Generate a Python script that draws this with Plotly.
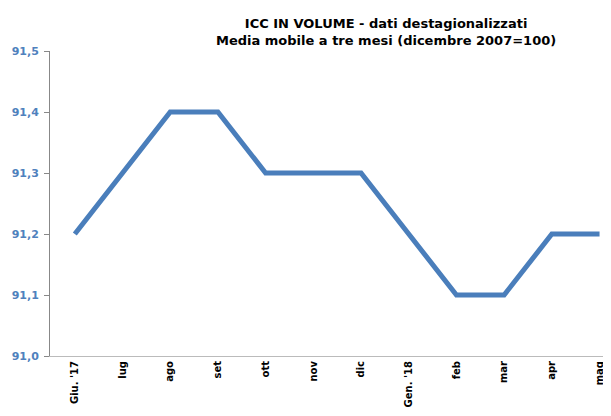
import plotly.graph_objects as go

categories = ["Giu. '17", "lug", "ago", "set", "ott", "nov", "dic", "Gen. '18", "feb", "mar", "apr", "mag"]
values = [91.2, 91.3, 91.4, 91.4, 91.3, 91.3, 91.3, 91.2, 91.1, 91.1, 91.2, 91.2]
y_ticks = [91.0, 91.1, 91.2, 91.3, 91.4, 91.5]
y_labels = ["91,0", "91,1", "91,2", "91,3", "91,4", "91,5"]

fig = go.Figure()
fig.add_trace(go.Scatter(
    x=list(range(len(categories))), y=values, mode="lines",
    line=dict(color="#4A7EBB", width=5), hoverinfo="skip",
))

fig.update_layout(
    width=603, height=408,
    margin=dict(l=42, r=0, t=43, b=60),
    paper_bgcolor="white", plot_bgcolor="white",
    showlegend=False,
    font=dict(family="DejaVu Sans"),
    title=dict(
        text="<b>ICC IN VOLUME - dati destagionalizzati<br>Media mobile a tre mesi (dicembre 2007=100)</b>",
        x=0.627, xanchor="center", y=0.95, yanchor="top",
        font=dict(size=13, color="black", family="DejaVu Sans"),
    ),
    xaxis=dict(
        range=[-0.52, 11.24], automargin=False,
        tickmode="array", tickvals=list(range(len(categories))),
        ticktext=[f"<b>{c}</b>" for c in categories],
        tickangle=-90, tickfont=dict(size=10, color="black"),
        showline=True, linecolor="#BBBBBB", linewidth=1,
        ticks="", showgrid=False, zeroline=False,
    ),
    yaxis=dict(
        range=[91.0, 91.5], automargin=False,
        tickmode="array", tickvals=y_ticks,
        ticktext=[f"<b>{t}</b>" for t in y_labels],
        tickfont=dict(size=11, color="#4F81BD"),
        showline=True, linecolor="#888888", linewidth=1,
        ticks="outside", ticklen=5, tickcolor="#888888",
        ticklabelstandoff=3,
        showgrid=False, zeroline=False,
    ),
)

fig.write_html("out.html")
